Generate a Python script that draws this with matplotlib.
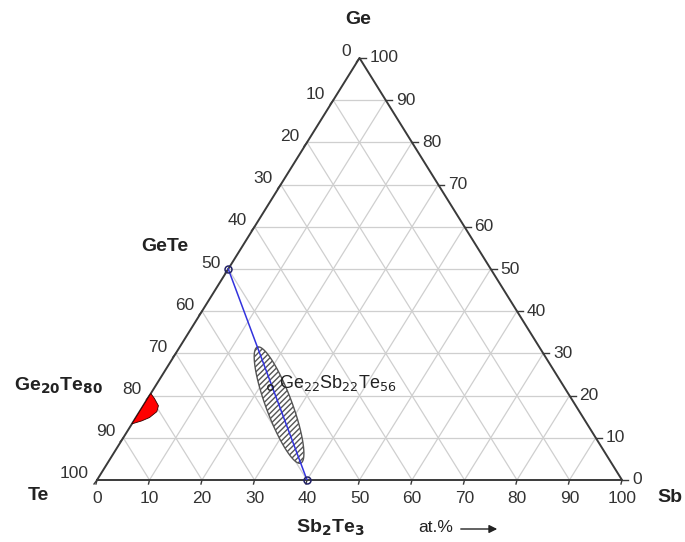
import numpy as np
import matplotlib
matplotlib.use("Agg")
import matplotlib.pyplot as plt
from matplotlib.patches import Polygon, FancyArrowPatch

plt.rcParams["font.family"] = ["Liberation Sans", "DejaVu Sans"]

# compositions as (Sb, Ge) fractions in percent, Te is the rest
TICKS = [0, 10, 20, 30, 40, 50, 60, 70, 80, 90, 100]
GETE = (0, 50)
SB2TE3 = (40, 0)
GST = (22, 22)
# red region near Ge20Te80 (Sb, Ge)
RED_SB = [0, 1.3, 2.9, 3.3, 2.6, 1.5, 0]
RED_GE = [20.5, 19.3, 17.6, 16.2, 14.8, 14.0, 13.3]
# hatched ellipse along GeTe-Sb2Te3 tie line
ELL_CENTER_T = 0.645  # position along tie line
ELL_HALF_T = 0.275
ELL_HALF_WIDTH_PX = 13

W, H = 685, 542
X0, Y0, PW, PH = 97, 62, 525, 422
GRAY = "#3a3a3a"
GRID = "#cfcfcf"


def xy(sb, ge):
    sb = np.asarray(sb, dtype=float) / 100.0
    ge = np.asarray(ge, dtype=float) / 100.0
    return sb + ge / 2.0, ge


fig = plt.figure(figsize=(W / 100, H / 100), dpi=100)
ax = fig.add_axes([X0 / W, Y0 / H, PW / W, PH / H])
ax.set_xlim(0, 1)
ax.set_ylim(0, 1)
ax.axis("off")

# pixel scale of data units
sx, sy = PW, PH

# grid lines
for v in TICKS[1:-1]:
    x, y = xy([0, 100 - v], [v, v])
    ax.plot(x, y, color=GRID, lw=0.9, zorder=1)
    x, y = xy([v, v], [0, 100 - v])
    ax.plot(x, y, color=GRID, lw=0.9, zorder=1)
    x, y = xy([100 - v, 0], [0, 100 - v])
    ax.plot(x, y, color=GRID, lw=0.9, zorder=1)

# triangle outline
x, y = xy([0, 100, 0, 0], [0, 0, 100, 0])
ax.plot(x, y, color=GRAY, lw=1.4, zorder=3, clip_on=False)

fs = 12.5
tc = "#333333"
# bottom axis (Sb)
for v in TICKS:
    x, y = xy(v, 0)
    ax.plot([x, x - 1 / sx], [y, y - 4 / sy], color=GRAY, lw=1, clip_on=False)
    ax.text(x, y - 11 / sy, str(v), ha="center", va="top", fontsize=fs,
            color=tc)
# left axis (Te, 0 at Ge corner)
for v in TICKS:
    x, y = xy(0, 100 - v)
    ax.plot([x, x - 3 / sx], [y, y - 4 / sy], color=GRAY, lw=1, clip_on=False)
    ax.text(x - 8 / sx, y + 6 / sy, str(v), ha="right", va="center",
            fontsize=fs, color=tc)
# right axis (Ge)
for v in TICKS:
    x, y = xy(100 - v, v)
    ax.plot([x, x + 6 / sx], [y, y], color=GRAY, lw=1, clip_on=False)
    ax.text(x + 10 / sx, y, str(v), ha="left", va="center", fontsize=fs,
            color=tc)

# hatched ellipse
ax_, ay_ = xy(*GETE)
bx_, by_ = xy(*SB2TE3)
cx = ax_ + ELL_CENTER_T * (bx_ - ax_)
cy = ay_ + ELL_CENTER_T * (by_ - ay_)
ux, uy = ELL_HALF_T * (bx_ - ax_), ELL_HALF_T * (by_ - ay_)
upx = np.array([ux * sx, uy * sy])
vpx = np.array([-upx[1], upx[0]]) / np.hypot(*upx) * ELL_HALF_WIDTH_PX
vx, vy = vpx[0] / sx, vpx[1] / sy
t = np.linspace(0, 2 * np.pi, 200)
ex = cx + ux * np.cos(t) + vx * np.sin(t)
ey = cy + uy * np.cos(t) + vy * np.sin(t)
ell = Polygon(np.column_stack([ex, ey]), closed=True, facecolor="white",
              edgecolor="#555555", hatch="//////", lw=1.0, zorder=4)
ax.add_patch(ell)

# tie line
x, y = xy([GETE[0], SB2TE3[0]], [GETE[1], SB2TE3[1]])
ax.plot(x, y, color="#3333dd", lw=1.1, zorder=5)
ax.plot(x, y, "o", ms=5, mfc="none", mec="#222266", mew=1.1, zorder=6,
        clip_on=False)
x, y = xy(*GST)
ax.plot(x, y, "o", ms=4, mfc="none", mec="#222222", mew=1, zorder=6)
ax.text(x + 9 / sx, y + 4 / sy, r"Ge$_{22}$Sb$_{22}$Te$_{56}$", fontsize=13,
        ha="left", va="center", color="#222222", zorder=7)

# red region
x, y = xy(RED_SB, RED_GE)
ax.add_patch(Polygon(np.column_stack([x, y]), closed=True, facecolor="red",
                     edgecolor="#330000", lw=0.6, zorder=4))

# labels
bold = dict(fontsize=14, fontweight="bold", color="#222222")
fig.text(358 / W, 1 - 20 / H, "Ge", ha="center", va="center", **bold)
fig.text(38 / W, 1 - 496 / H, "Te", ha="center", va="center", **bold)
fig.text(670 / W, 1 - 497 / H, "Sb", ha="center", va="center", **bold)
fig.text(165 / W, 1 - 246 / H, "GeTe", ha="center", va="center", **bold)
fig.text(58 / W, 1 - 386 / H, r"Ge$_{\mathbf{20}}$Te$_{\mathbf{80}}$",
         ha="center", va="center", **bold)
fig.text(330 / W, 1 - 528 / H, r"Sb$_{\mathbf{2}}$Te$_{\mathbf{3}}$",
         ha="center", va="center", **bold)
fig.text(418 / W, 1 - 528 / H, "at.%", ha="left", va="center", fontsize=12.5,
         color="#222222")
fig.add_artist(FancyArrowPatch(
    (458 / W, 1 - 529 / H), (500 / W, 1 - 529 / H),
    transform=fig.transFigure, arrowstyle="-|>", mutation_scale=12,
    color="#222222", lw=1))

fig.savefig("out.png", dpi=100)
